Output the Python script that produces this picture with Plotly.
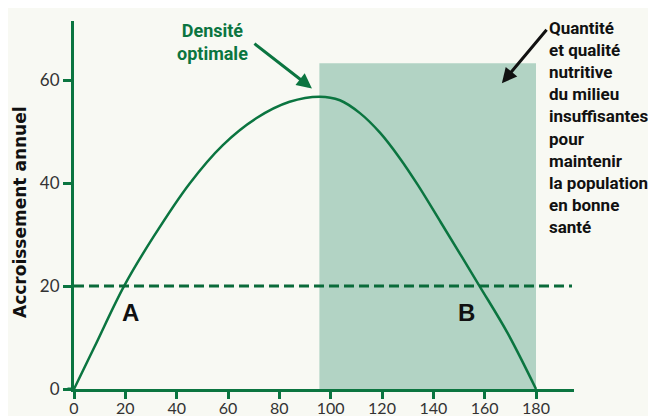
import plotly.graph_objects as go

# densité (x) et accroissement annuel (y)
densite = [0, 8, 19.5, 31, 45, 58, 71, 84, 95.8, 103.6, 111.4, 119.2, 127, 134, 143, 158, 169, 180]
accroissement = [0, 8.2, 20, 29.6, 39.9, 47.4, 52.6, 55.8, 56.8, 56.1, 53.6, 49.8, 44.8, 39.6, 32.3, 20, 10.8, 0]

seuil = 20
zone_x = [95.6, 180]
zone_haut = 63.3
x_ticks = [0, 20, 40, 60, 80, 100, 120, 140, 160, 180]
y_ticks = [0, 20, 40, 60]

lignes_texte = ['Quantité', 'et qualité', 'nutritive', 'du milieu', 'insuffisantes',
                'pour', 'maintenir', 'la population', 'en bonne', 'santé']

vert = '#0b7540'
fond = '#f8f9f3'
etroit = 'Roboto, sans-serif'

fig = go.Figure()

fig.add_trace(go.Scatter(
    x=densite, y=accroissement,
    mode='lines',
    line=dict(color=vert, width=2.5, shape='spline', smoothing=1),
    hoverinfo='skip',
    showlegend=False,
    cliponaxis=False
))

# zone ombrée
fig.add_shape(type='rect', xref='x', yref='y',
              x0=zone_x[0], x1=zone_x[1], y0=0, y1=zone_haut,
              fillcolor='#b2d3c4', line=dict(width=0), layer='below')

# ligne pointillée
fig.add_shape(type='line', xref='paper', yref='y',
              x0=0, x1=0.996, y0=seuil, y1=seuil,
              line=dict(color='#0a6b3a', width=3, dash='10px,5px'))

# prolongement de l'axe x à gauche
fig.add_shape(type='line', xref='paper', yref='y',
              x0=-0.013, x1=0, y0=0, y1=0,
              line=dict(color=vert, width=3))

fig.add_annotation(x=54, y=67.4, text='Densité<br>optimale', showarrow=False,
                   font=dict(family=etroit, size=18, color=vert, weight='bold'))
fig.add_annotation(x=92.7, y=58.4, ax=-59, ay=-46, text='', showarrow=True,
                   arrowhead=2, arrowsize=1, arrowwidth=3, arrowcolor=vert)

# texte de droite, une ligne par annotation
for i, ligne in enumerate(lignes_texte):
    fig.add_annotation(xref='paper', yref='paper',
                       x=(547 - 74) / 500, y=(389 - 28 - 22.1 * i) / 368,
                       xanchor='left', yanchor='middle', text=ligne, showarrow=False,
                       font=dict(family=etroit, size=17, color='#111111', weight='bold'))
fig.add_annotation(x=166.7, y=59.4, ax=46, ay=-55, text='', showarrow=True,
                   arrowhead=2, arrowsize=1, arrowwidth=3, arrowcolor='#111111')

fig.add_annotation(x=22.2, y=14.8, text='A', showarrow=False,
                   font=dict(family='Liberation Sans', size=24, color='#111111', weight='bold'))
fig.add_annotation(x=153.1, y=14.8, text='B', showarrow=False,
                   font=dict(family='Liberation Sans', size=24, color='#111111', weight='bold'))

fig.add_annotation(xref='paper', x=(20 - 74) / 500, xanchor='center', y=34.4,
                   text='Accroissement annuel', textangle=-90, showarrow=False,
                   font=dict(family='DejaVu Sans', size=17, color='#111111', weight='bold'))

fig.update_xaxes(range=[0, 194.8], tickvals=x_ticks, showgrid=False, zeroline=False,
                 showline=True, linecolor=vert, linewidth=3, automargin=False,
                 ticks='outside', ticklen=7, tickwidth=3, tickcolor=vert,
                 ticklabelstandoff=-4,
                 tickfont=dict(family='Lato', size=16, color='#333333'))
fig.update_yaxes(range=[0, 71.5], tickvals=y_ticks, showgrid=False, zeroline=False,
                 showline=True, linecolor=vert, linewidth=3, automargin=False,
                 ticks='outside', ticklen=8, tickwidth=3, tickcolor=vert,
                 tickfont=dict(family='Lato', size=17, color='#333333'))

fig.update_layout(
    width=656, height=416,
    margin=dict(l=66, r=90, t=13, b=35),
    paper_bgcolor=fond, plot_bgcolor=fond,
    showlegend=False
)

fig.write_html('out.html')
